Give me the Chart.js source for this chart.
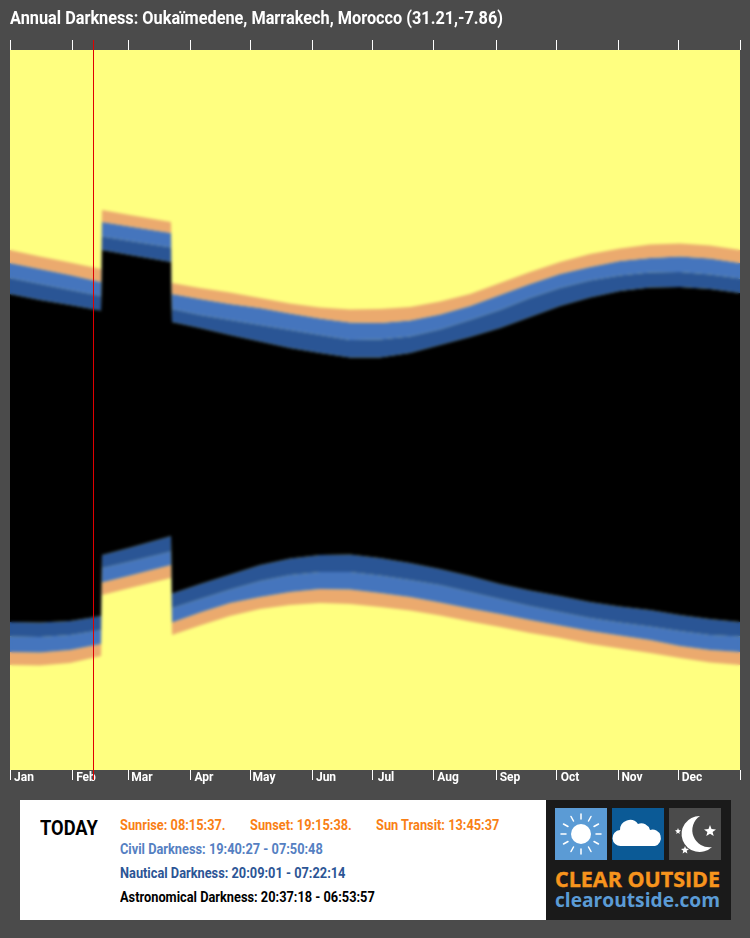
<!DOCTYPE html>
<html>
<head>
<meta charset="utf-8">
<title>Annual Darkness</title>
<script src="https://cdn.jsdelivr.net/npm/chart.js@4/dist/chart.umd.min.js"></script>
<style>
  html, body { margin: 0; padding: 0; background: #4b4b4b; }
  #page { position: relative; width: 750px; height: 938px; overflow: hidden; font-family: Roboto, sans-serif; font-weight: 700; }
  #graph { position: absolute; left: 0; top: 0; }
  .txt { position: absolute; white-space: nowrap; transform-origin: 0 50%; line-height: 20px; }
  #titre { left: 10px; top: 8px; font-size: 19px; color: #fff; transform: scaleX(0.857); }
  #box { position: absolute; left: 20px; top: 800px; width: 526px; height: 120px; background: #fff; }
  #today { left: 40px; top: 818px; font-size: 21px; color: #000; transform: scaleX(0.87); }
  .row { font-size: 15px; transform: scaleX(0.853); }
  .orange { color: #f97f15; }
  .civil { color: #5580c2; }
  .nautical { color: #2c5595; }
  .astro { color: #000; }
  #logo { position: absolute; left: 546px; top: 800px; }
</style>
</head>
<body>
<div id="page">
  <canvas id="graph" width="750" height="800"></canvas>
  <div id="titre" class="txt">Annual Darkness: Oukaïmedene, Marrakech, Morocco (31.21,-7.86)</div>
  <div id="box"></div>
  <div id="today" class="txt">TODAY</div>
  <div class="txt row orange" style="left:120px;top:815px">Sunrise: 08:15:37.</div>
  <div class="txt row orange" style="left:250px;top:815px">Sunset: 19:15:38.</div>
  <div class="txt row orange" style="left:376px;top:815px">Sun Transit: 13:45:37</div>
  <div class="txt row civil" style="left:120px;top:839px">Civil Darkness: 19:40:27 - 07:50:48</div>
  <div class="txt row nautical" style="left:120px;top:863px">Nautical Darkness: 20:09:01 - 07:22:14</div>
  <div class="txt row astro" style="left:120px;top:887px">Astronomical Darkness: 20:37:18 - 06:53:57</div>
  <svg id="logo" width="185" height="120" viewBox="0 0 185 120">
    <rect width="185" height="120" fill="#1a1a1a"/>
    <rect x="9" y="8" width="52" height="52" fill="#5b9bd5"/>
    <rect x="66" y="8" width="52" height="52" fill="#0b5a96"/>
    <rect x="123" y="8" width="52" height="52" fill="#4b4b4b"/>
    <circle cx="35" cy="34" r="10" fill="#fff"/>
    <g stroke="#fff" stroke-width="1.500" stroke-linecap="round">
      <path d="M35 14v5M35 49v5M15 34h5M50 34h5M25 16.500l2.500 4.500M42.500 47l2.500 4.500M17.500 24l4.500 2.500M48 41.500l4.500 2.500M45 16.500l-2.500 4.500M27.500 47l-2.500 4.500M52.500 24l-4.500 2.500M22 41.500l-4.500 2.500"/>
    </g>
    <path d="M75 46a8 8 0 0 1 -1 -16a10 10 0 0 1 18 -6a9 9 0 0 1 12 6a8 8 0 0 1 5 16z" fill="#fff"/>
    <path d="M154 16a18 18 0 1 0 12 31a17 17 0 0 1 -12 -31z" fill="#fff"/>
    <g fill="#fff">
      <polygon points="132,28 132.800,30 135,30.500 133.200,31.900 133.800,34 132,32.800 130.200,34 130.800,31.900 129,30.500 131.200,30"/>
      <polygon points="164,25 165.500,29 170,29.500 166.600,32 167.700,36 164,33.800 160.300,36 161.400,32 158,29.500 162.500,29"/>
      <polygon points="139,46 140,48.600 143,49 140.700,50.800 141.400,53.500 139,52 136.600,53.500 137.300,50.800 135,49 138,48.600"/>
    </g>
    <text x="9" y="87" font-family="Open Sans, sans-serif" font-weight="700" font-size="22" fill="#f7941d" stroke="#f7941d" stroke-width="0.4" textLength="165" lengthAdjust="spacingAndGlyphs">CLEAR OUTSIDE</text>
    <text x="9" y="107" font-family="Open Sans, sans-serif" font-weight="700" font-size="20" fill="#5b9bd5" textLength="165" lengthAdjust="spacingAndGlyphs">clearoutside.com</text>
  </svg>
</div>
<script>
// day of the year
const days = [0, 15, 30, 45.5, 46, 60, 80.5, 81, 95, 110, 125, 140, 155, 170, 185, 200, 215, 230, 245, 260, 275, 290, 305, 320, 335, 350, 365];

// minutes after noon
const sunset = [400, 413, 425, 438, 320, 330, 344, 466, 476, 485, 496, 507, 515, 519, 518, 514, 503, 488, 466, 444, 424, 408, 397, 389, 387, 391, 400];
const civilDusk = [426, 438, 450, 464, 344, 353, 366, 488, 498, 508, 516, 527, 537, 545, 546, 541, 529, 512, 490, 468, 448, 434, 422, 416, 413, 417, 426];
const nauticalDusk = [456, 468, 480, 492, 373, 382, 395, 518, 530, 540, 550, 560, 570, 580, 579, 573, 559, 540, 520, 496, 476, 461, 451, 445, 444, 449, 457];
const astroDusk = [488, 500, 510, 521, 400, 410, 424, 544, 556, 570, 583, 596, 606, 615, 615, 606, 590, 574, 556, 534, 512, 495, 482, 475, 474, 478, 486];
const astroDawn = [1144, 1145, 1142, 1132, 1010, 995, 972, 1087, 1068, 1049, 1030, 1017, 1010, 1009, 1016, 1026, 1038, 1052, 1068, 1081, 1092, 1104, 1113, 1120, 1130, 1138, 1144];
const nauticalDawn = [1173, 1174, 1170, 1160, 1036, 1023, 1003, 1116, 1098, 1079, 1062, 1050, 1044, 1044, 1051, 1060, 1070, 1084, 1098, 1112, 1124, 1136, 1145, 1153, 1162, 1170, 1173];
const civilDawn = [1204, 1205, 1200, 1188, 1065, 1051, 1030, 1145, 1125, 1106, 1094, 1084, 1078, 1079, 1086, 1094, 1105, 1117, 1128, 1140, 1151, 1162, 1171, 1180, 1192, 1200, 1204];
const sunrise = [1230, 1231, 1226, 1212, 1090, 1076, 1056, 1170, 1151, 1132, 1118, 1110, 1106, 1108, 1114, 1121, 1131, 1143, 1154, 1166, 1176, 1188, 1197, 1206, 1216, 1225, 1230];

const months = ["Jan", "Feb", "Mar", "Apr", "May", "Jun", "Jul", "Aug", "Sep", "Oct", "Nov", "Dec", ""];
const monthStarts = [0, 31, 59, 90, 120, 151, 181, 212, 243, 273, 304, 334, 365];
const todayDay = 41.5;

const orange = "#ebaa6e";
const blue = "#4575bd";
const darkBlue = "#2a5595";

function bande(nom, valeurs, couleur) {
  return {
    label: nom,
    data: valeurs.map((v, i) => ({ x: days[i], y: v })),
    xAxisID: "x",
    yAxisID: "y",
    borderWidth: 0,
    pointRadius: 0,
    tension: 0,
    backgroundColor: couleur || "transparent",
    fill: couleur ? "+1" : false
  };
}

function axeMois(position, avecLabels) {
  return {
    type: "linear",
    position: position,
    min: 0,
    max: 365,
    afterBuildTicks: function (scale) {
      scale.ticks = monthStarts.map(d => ({ value: d }));
    },
    afterFit: function (scale) {
      scale.height = avecLabels ? 30 : 10;
      scale.paddingLeft = 0;
      scale.paddingRight = 0;
    },
    border: { display: false },
    grid: { drawOnChartArea: false, tickLength: 10, tickColor: "#fff", lineWidth: 1 },
    ticks: {
      display: avecLabels,
      autoSkip: false,
      maxRotation: 0,
      minRotation: 0,
      color: "#fff",
      padding: -9,
      labelOffset: 14,
      font: { family: "'Liberation Sans Narrow', Roboto, sans-serif", weight: "bold", size: 12 },
      callback: function (value, index) {
        return months[index];
      }
    }
  };
}

// le fond jaune, le flou et la ligne du jour
const pluginFond = {
  id: "fond",
  beforeDatasetsDraw(chart) {
    const a = chart.chartArea;
    chart.ctx.save();
    chart.ctx.fillStyle = "#ffff80";
    chart.ctx.fillRect(a.left, a.top, a.width, a.height);
    chart.ctx.restore();
  },
  afterDatasetsDraw(chart) {
    const a = chart.chartArea;
    const ctx = chart.ctx;
    ctx.save();
    ctx.beginPath();
    ctx.rect(a.left, a.top, a.width, a.height);
    ctx.clip();
    ctx.filter = "blur(1.5px)";
    ctx.drawImage(chart.canvas, a.left, a.top, a.width, a.height, a.left, a.top, a.width, a.height);
    ctx.restore();
  },
  afterDraw(chart) {
    const x = Math.round(chart.scales.x.getPixelForValue(todayDay)) + 0.5;
    const ctx = chart.ctx;
    ctx.save();
    ctx.strokeStyle = "#e00000";
    ctx.lineWidth = 1;
    ctx.beginPath();
    ctx.moveTo(x, chart.chartArea.top - 10);
    ctx.lineTo(x, chart.chartArea.bottom + 10);
    ctx.stroke();
    ctx.restore();
  }
};

new Chart(document.querySelector("#graph"), {
  type: "line",
  data: {
    datasets: [
      bande("Sunset", sunset, orange),
      bande("Civil dusk", civilDusk, blue),
      bande("Nautical dusk", nauticalDusk, darkBlue),
      bande("Astronomical dusk", astroDusk, "#000"),
      bande("Astronomical dawn", astroDawn, darkBlue),
      bande("Nautical dawn", nauticalDawn, blue),
      bande("Civil dawn", civilDawn, orange),
      bande("Sunrise", sunrise, null)
    ]
  },
  options: {
    responsive: false,
    animation: false,
    layout: { padding: { top: 40, left: 10, right: 10, bottom: 0 } },
    plugins: { legend: { display: false }, tooltip: { enabled: false } },
    scales: {
      x: axeMois("bottom", true),
      xHaut: axeMois("top", false),
      y: { display: false, min: 0, max: 1440, reverse: true }
    }
  },
  plugins: [pluginFond]
});
</script>
</body>
</html>
